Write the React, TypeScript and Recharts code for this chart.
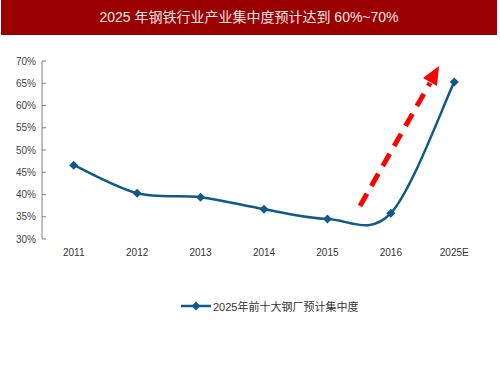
import React from 'react';
import { LineChart, Line, XAxis, YAxis } from 'recharts';

// 2025年前十大钢厂集中度 (ratio)
const years = ['2011', '2012', '2013', '2014', '2015', '2016', '2025E'];
const share = [0.466, 0.403, 0.394, 0.367, 0.345, 0.358, 0.653];
const yTicks = [0.3, 0.35, 0.4, 0.45, 0.5, 0.55, 0.6, 0.65, 0.7];

const seriesName = '2025年前十大钢厂预计集中度';
const title = '2025 年钢铁行业产业集中度预计达到 60%~70%';

const data = years.map((y, i) => ({ idx: i, year: y, share: share[i] }));
const catTicks = years.map((_, i) => i);
const sepTicks = years.map((_, i) => i + 0.5);

const LINE_COLOR = '#0f5a8a';
const FONT = '"Liberation Sans", Arial, "Noto Sans CJK SC", sans-serif';

// Excel-like smoothed line (catmull-rom through the points)
const smoothCurve = (context: any) => {
    let xs: number[] = [];
    let ys: number[] = [];
    return {
        areaStart() {},
        areaEnd() {},
        lineStart() { xs = []; ys = []; },
        point(x: number, y: number) { xs.push(+x); ys.push(+y); },
        lineEnd() {
            const n = xs.length;
            if (!n) return;
            context.moveTo(xs[0], ys[0]);
            for (let i = 0; i < n - 1; i++) {
                const a = Math.max(i - 1, 0);
                const b = Math.min(i + 2, n - 1);
                context.bezierCurveTo(
                    xs[i] + (xs[i + 1] - xs[a]) / 6, ys[i] + (ys[i + 1] - ys[a]) / 6,
                    xs[i + 1] - (xs[b] - xs[i]) / 6, ys[i + 1] - (ys[b] - ys[i]) / 6,
                    xs[i + 1], ys[i + 1]
                );
            }
        },
    };
};

const Diamond = (props: any) => {
    const { cx, cy } = props;
    if (cx == null || cy == null) return null;
    const r = 4.5;
    return <polygon points={`${cx},${cy - r} ${cx + r},${cy} ${cx},${cy + r} ${cx - r},${cy}`} fill={LINE_COLOR} />;
};

export default function App() {
    return (
        <div style={{ position: 'absolute', left: 0, top: 0, width: 500, height: 375, background: '#fff', fontFamily: FONT }}>
            {/* title bar */}
            <div style={{ position: 'absolute', left: 1, top: 0, width: 496, height: 35, background: '#9b0000', color: '#f4e6e6', fontSize: 14, lineHeight: '35px', textAlign: 'center', whiteSpace: 'pre' }}>
                {title}
            </div>

            <div style={{ position: 'absolute', left: 0, top: 0 }}>
                <LineChart width={500} height={270} data={data} margin={{ top: 61, right: 14, bottom: 1, left: 0 }}>
                    <XAxis
                        xAxisId="sep"
                        type="number"
                        dataKey="idx"
                        domain={[-0.5, 6.5]}
                        ticks={sepTicks}
                        tickFormatter={() => ''}
                        height={0}
                        tickSize={-4}
                        tickMargin={0}
                        stroke="#808080"
                    />
                    <XAxis
                        xAxisId="cat"
                        type="number"
                        dataKey="idx"
                        domain={[-0.5, 6.5]}
                        ticks={catTicks}
                        tickFormatter={(v: number) => years[v]}
                        axisLine={false}
                        tickLine={false}
                        height={30}
                        tickMargin={4}
                        tick={{ fill: '#333', fontSize: 10, fontFamily: FONT }}
                    />
                    <YAxis
                        type="number"
                        domain={[0.3, 0.7]}
                        ticks={yTicks}
                        tickFormatter={(v: number) => `${Math.round(v * 100)}%`}
                        width={42}
                        tickSize={-4}
                        tickMargin={10}
                        stroke="#808080"
                        tick={{ fill: '#444', fontSize: 10, fontFamily: FONT }}
                        interval={0}
                    />
                    <Line
                        xAxisId="cat"
                        type={smoothCurve as any}
                        dataKey="share"
                        stroke={LINE_COLOR}
                        strokeWidth={2.5}
                        dot={<Diamond />}
                        activeDot={false}
                        isAnimationActive={false}
                    />
                </LineChart>
            </div>

            {/* red dashed arrow */}
            <svg width={500} height={375} style={{ position: 'absolute', left: 0, top: 0, pointerEvents: 'none' }}>
                <line x1={360} y1={206} x2={430} y2={83} stroke="#ff0000" strokeWidth={5} strokeDasharray="14 9" />
                <polygon points="439,66 423,78 437,86" fill="#ff0000" />
            </svg>

            {/* legend */}
            <div style={{ position: 'absolute', top: 298, left: 181, display: 'flex', alignItems: 'center', fontSize: 11, color: '#333' }}>
                <svg width={32} height={14}>
                    <line x1={0} y1={7} x2={30} y2={7} stroke={LINE_COLOR} strokeWidth={2.5} />
                    <polygon points="15,2.5 19.5,7 15,11.5 10.5,7" fill={LINE_COLOR} />
                </svg>
                <span>{seriesName}</span>
            </div>
        </div>
    );
}
